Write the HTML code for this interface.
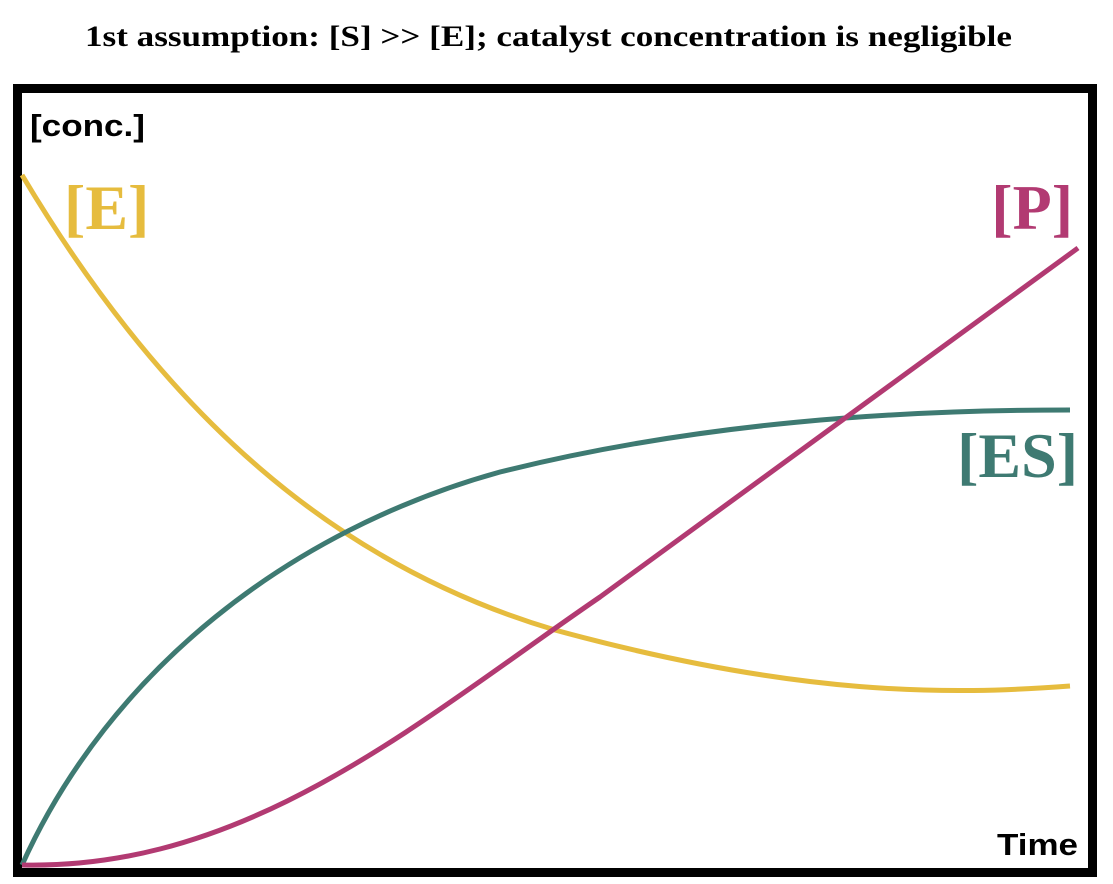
<!DOCTYPE html>
<html><head><meta charset="utf-8"><style>
html,body{margin:0;padding:0;background:#fff;}
svg{display:block;}
</style></head><body>
<svg width="1113" height="884" viewBox="0 0 1113 884" xmlns="http://www.w3.org/2000/svg">
<rect width="1113" height="884" fill="#fff"/>
<text x="85" y="46" textLength="927" lengthAdjust="spacingAndGlyphs" font-family="Liberation Serif, serif" font-weight="bold" font-size="30">1st assumption: [S] &gt;&gt; [E]; catalyst concentration is negligible</text>
<rect x="17.5" y="88.5" width="1075" height="784" fill="none" stroke="#000" stroke-width="9"/>
<text x="30" y="136" textLength="115" lengthAdjust="spacingAndGlyphs" font-family="Liberation Sans, sans-serif" font-weight="bold" font-size="31">[conc.]</text>
<text x="997" y="855" textLength="81" lengthAdjust="spacingAndGlyphs" font-family="Liberation Sans, sans-serif" font-weight="bold" font-size="31">Time</text>
<path d="M22,175 C165,415 335,565 555,630 C800,697 950,695 1070,686" fill="none" stroke="#E6BC3E" stroke-width="5"/>
<path d="M22,865 C110,670 290,530 500,472 C700,422 900,410 1070,410" fill="none" stroke="#3E7A72" stroke-width="5"/>
<path d="M22,865 C250,870 420,720 600,597 L1078,248" fill="none" stroke="#B23A72" stroke-width="5"/>
<text x="64" y="229" font-family="Liberation Serif, serif" font-weight="bold" font-size="64" fill="#E6BC3E">[E]</text>
<text x="1073" y="229" text-anchor="end" font-family="Liberation Serif, serif" font-weight="bold" font-size="64" fill="#B23A72">[P]</text>
<text x="1078" y="477" text-anchor="end" font-family="Liberation Serif, serif" font-weight="bold" font-size="64" fill="#3E7A72">[ES]</text>
</svg>
</body></html>
